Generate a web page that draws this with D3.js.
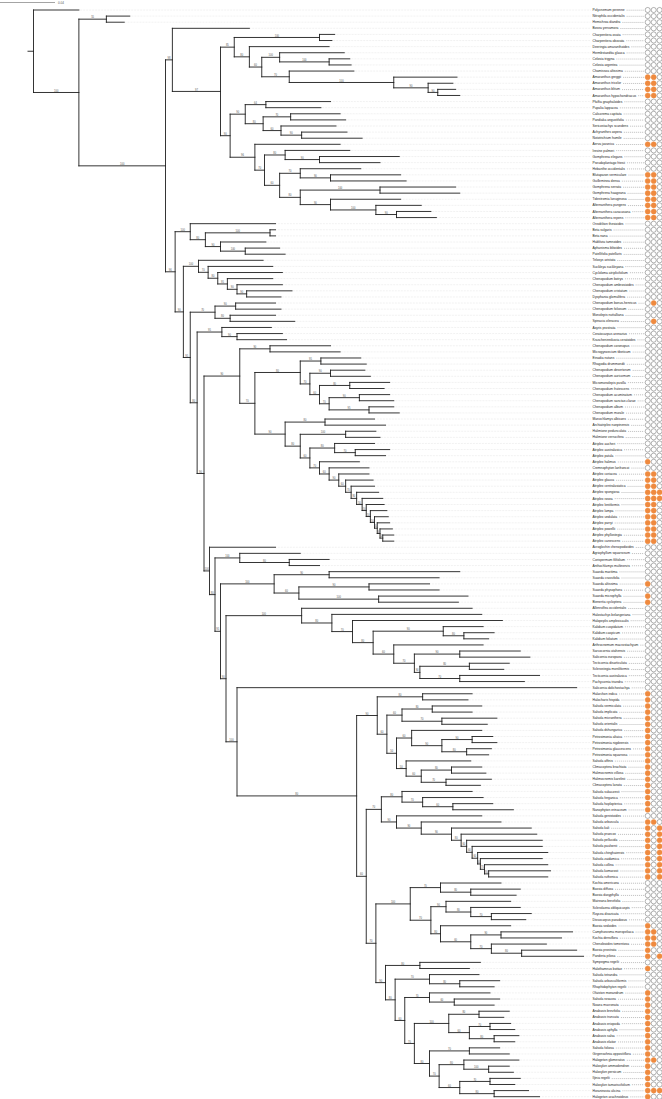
<!DOCTYPE html>
<html><head><meta charset="utf-8">
<script src="https://cdn.jsdelivr.net/npm/d3@7"></script>
<style>body{margin:0;background:#fff}svg{display:block}</style></head>
<body><svg id="c" width="662" height="1099"></svg>
<script>
// ---------------- DATA ----------------
const scaleBarValue = 0.04;          // substitutions / site
const branchUnit = 0.001;            // newick lengths are in units of 0.001 subst./site
const tipNames = [
"Polycnemum perenne","Nitrophila occidentalis","Hemichroa diandra","Bosea yervamora","Charpentiera ovata","Charpentiera obovata","Deeringia amaranthoides","Hermbstaedtia glauca","Celosia trigyna","Celosia argentea",
"Chamissoa altissima","Amaranthus greggii","Amaranthus tricolor","Amaranthus blitum","Amaranthus hypochondriacus","Pfaffia gnaphaloides","Pupalia lappacea","Calicorema capitata","Pandiaka angustifolia","Sericostachys scandens",
"Achyranthes aspera","Nototrichium humile","Aerva javanica","Iresine palmeri","Gomphrena elegans","Pseudoplantago friesii","Hebanthe occidentalis","Blutaparon vermiculare","Guilleminea densa","Gomphrena serrata",
"Gomphrena haageana","Tidestromia lanuginosa","Alternanthera pungens","Alternanthera caracasana","Alternanthera repens","Oreobliton thesioides","Beta vulgaris","Beta nana","Hablitzia tamnoides","Aphanisma blitoides",
"Patellifolia patellaris","Teloxys aristata","Suckleya suckleyana","Cycloloma atriplicifolium","Chenopodium botrys","Chenopodium ambrosioides","Chenopodium cristatum","Dysphania glomulifera","Chenopodium bonus-henricus","Chenopodium foliosum",
"Monolepis nuttalliana","Spinacia oleracea","Axyris prostrata","Ceratocarpus arenarius","Krascheninnikovia ceratoides","Chenopodium coronopus","Microgynoecium tibeticum","Einadia nutans","Rhagodia drummondii","Chenopodium desertorum",
"Chenopodium auricomum","Micromonolepis pusilla","Chenopodium frutescens","Chenopodium acuminatum","Chenopodium sanctae-clarae","Chenopodium album","Chenopodium murale","Manochlamys albicans","Archiatriplex nanpinensis","Halimione pedunculata",
"Halimione verrucifera","Atriplex aucheri","Atriplex australasica","Atriplex patula","Atriplex halimus","Cremnophyton lanfrancoi","Atriplex coriacea","Atriplex glauca","Atriplex centralasiatica","Atriplex spongiosa",
"Atriplex rosea","Atriplex lentiformis","Atriplex lampa","Atriplex undulata","Atriplex parryi","Atriplex powellii","Atriplex phyllostegia","Atriplex canescens","Acroglochin chenopodioides","Agriophyllum squarrosum",
"Corispermum filifolium","Anthochlamys multinervis","Suaeda maritima","Suaeda crassifolia","Suaeda altissima","Suaeda physophora","Suaeda microphylla","Bienertia cycloptera","Allenrolfea occidentalis","Halostachys belangeriana",
"Halopeplis amplexicaulis","Kalidium cuspidatum","Kalidium caspicum","Kalidium foliatum","Arthrocnemum macrostachyum","Sarcocornia utahensis","Salicornia europaea","Tecticornia disarticulata","Sclerostegia moniliformis","Tecticornia australasica",
"Pachycornia triandra","Salicornia dolichostachya","Halarchon indica","Halocharis hispida","Salsola vermiculata","Salsola implicata","Salsola micranthera","Salsola orientalis","Salsola dshungarica","Petrosimonia altaica",
"Petrosimonia nigdeensis","Petrosimonia glaucescens","Petrosimonia squarrosa","Salsola affinis","Climacoptera brachiata","Halimocnemis villosa","Halimocnemis karelinii","Climacoptera lanata","Salsola sukaczevii","Salsola ferganica",
"Salsola hoplopterica","Nanophyton erinaceum","Salsola genistoides","Salsola arbuscula","Salsola kali","Salsola praecox","Salsola pellucida","Salsola paulsenii","Salsola chinghaiensis","Salsola zaidamica",
"Salsola collina","Salsola komarovii","Salsola ruthenica","Kochia americana","Bassia diffusa","Bassia dasyphylla","Maireana brevifolia","Sclerolaena obliquicuspis","Roycea divaricata","Dissocarpus paradoxus",
"Bassia sedoides","Camphorosma monspeliaca","Kochia densiflora","Chenoleoides tomentosa","Bassia prostrata","Panderia pilosa","Sympegma regelii","Halothamnus bottae","Salsola tetrandra","Salsola arbusculiformis",
"Rhaphidophyton regelii","Ofaiston monandrum","Salsola rosacea","Noaea mucronata","Anabasis brevifolia","Anabasis truncata","Anabasis eriopoda","Anabasis aphylla","Anabasis salsa","Anabasis elatior",
"Salsola foliosa","Girgensohnia oppositiflora","Halogeton glomeratus","Haloxylon ammodendron","Haloxylon persicum","Iljinia regelii","Haloxylon tamariscifolium","Horaninovia ulicina","Halogeton arachnoideus"
];
// three binary traits per tip (1 = present / orange)
const trait1 = [
0,0,0,0,0,0,0,0,0,0, 0,1,1,1,1,0,0,0,0,0, 0,0,1,0,0,0,0,1,1,1, 1,1,1,1,1,0,0,0,0,0,
0,0,0,0,0,0,0,0,0,0, 0,0,0,0,0,0,0,0,0,0, 0,0,0,0,0,0,0,0,0,0, 0,0,0,0,1,0,1,1,1,1,
1,1,1,1,1,1,1,1,0,0, 0,0,0,0,1,0,1,1,0,0, 0,0,0,0,0,0,0,0,0,0, 0,0,1,1,1,1,1,1,1,1,
1,1,1,1,1,1,1,1,1,1, 1,1,0,1,1,1,1,1,1,1, 1,1,1,0,0,0,0,0,0,0, 1,1,1,1,1,1,0,1,0,0,
0,1,1,1,1,1,1,1,1,1, 1,1,1,1,1,1,1,1,1];
const trait2 = [
0,0,0,0,0,0,0,0,0,0, 0,1,1,1,1,0,0,0,0,0, 0,0,1,0,0,0,0,1,1,1, 1,1,1,1,1,0,0,0,0,0,
0,0,0,0,0,0,0,0,1,0, 0,1,0,0,0,0,0,0,0,0, 0,0,0,0,0,0,0,0,0,0, 0,0,0,0,0,0,1,1,1,1,
1,1,1,1,1,1,1,1,0,0, 0,0,0,0,0,0,0,0,0,0, 0,0,0,0,0,0,0,0,0,0, 0,0,0,0,0,0,0,0,0,0,
0,0,0,0,0,0,0,0,0,0, 0,0,0,1,0,0,0,0,0,0, 0,0,0,0,0,0,0,0,0,0, 0,1,1,1,0,0,0,0,0,0,
0,0,0,0,0,0,0,0,0,0, 0,0,1,0,0,0,0,1,0];
const trait3 = [
0,0,0,0,0,0,0,0,0,0, 0,0,0,0,0,0,0,0,0,0, 0,0,0,0,0,0,0,0,0,0, 0,0,0,0,0,0,0,0,0,0,
0,0,0,0,0,0,0,0,0,0, 0,0,0,0,0,0,0,0,0,0, 0,0,0,0,0,0,0,0,0,0, 0,0,0,0,0,0,0,0,0,1,
1,0,0,0,0,0,0,0,0,0, 0,0,0,0,0,0,0,0,0,0, 0,0,0,0,0,0,0,0,0,0, 0,0,0,0,0,0,0,0,0,0,
0,0,0,0,0,0,0,0,0,0, 0,0,0,0,1,1,1,1,1,1, 1,1,1,0,0,0,0,0,0,0, 0,0,0,0,0,1,0,0,0,0,
0,0,0,0,0,0,0,0,0,0, 0,0,0,0,0,0,0,1,0];

// tree pieces (tips are 1-based indices into tipNames; internal labels = bootstrap support)
const cladeA5 = "((5:11,6:9)100:62,(7:58,((8:47,(9:15,10:16)100:36)100:13,(11:47,(12:46,(13:18,(14:13,15:16)90:7)90:25)100:76)70:20)60:9)80:11)85";
const cladeA16 = "((16:47,17:40)64:15,((18:36,19:40)70:20,(20:40,(21:33,22:44)90:15)60:13)80:13)90";
const cladeG23 = "(23:62,((24:47,(25:58,26:44)90:25)80:15,((27:44,(28:51,29:55)90:22)70:15,((30:55,31:58)100:58,(32:51,(33:33,(34:25,35:29)90:15)100:33)90:22)80:15)60:11)70:7)96";
const cladeAma = "(4:56,("+cladeA5+":10,("+cladeA16+":11,"+cladeG23+":18)90:7)97:35)98";
const cladeBeta = "(36:62,((37:4,38:4)100:47,(39:33,(40:25,41:29)100:18)90:11)80:11)100";
const cladeDysph = "(42:47,(43:47,(44:47,(45:33,(46:33,(47:33,48:25)90:7)90:7)95:7)80:7)70:7)100";
const cladeC1 = "((49:29,50:33)90:15,(51:33,52:47)80:11)70";
const cladeC2 = "(53:36,(54:33,55:36)90:11)95";
const cladeC3b = "((58:29,59:33)95:15,((60:25,61:29)90:15,((62:29,63:25)80:22,((64:22,65:25)90:22,(66:18,67:22)95:29)70:7)60:7)70:7)80";
const cladeAtr = "(77:22,(78:20,(79:17,(80:16,(81:15,(82:13,(83:12,(84:10,(85:9,(86:9,(87:8,88:8)50:2)50:2)50:2)50:3)50:3)50:3)50:4)80:4)70:4)60:5)90";
const cladeAgrp = "((68:36,69:44)80:29,((70:22,71:25)100:33,((72:29,(73:25,74:22)70:15)80:18,(75:29,(76:29,"+cladeAtr+":7)60:7)70:7)60:7)80:11)90";
const cladeC34 = "((56:44,57:51)90:22,("+cladeC3b+":33,"+cladeAgrp+":22)70:11)90";
const cladeCoris = "(90:44,(91:29,92:22)80:36)100";
const cladeSuaed = "((93:95,94:80)90:40,((95:44,96:51)90:51,(97:65,98:58)100:58)60:18)100";
const cladeSalic = "(99:124,(100:109,(101:109,((102:29,(103:22,104:18)80:15)90:51,(105:65,((106:44,107:51)90:33,((108:29,109:25)80:36,(110:58,111:47)70:29)90:4)70:15)60:15)80:15)70:15)80:22)100";
const cladeS1 = "((113:36,114:33)80:33,(((115:36,116:29)80:22,(117:40,118:33)70:29)60:11,((119:51,((120:15,121:18)90:22,(122:18,123:16)80:18)90:22)60:11,(124:47,((125:22,126:25)80:22,(127:33,128:25)70:18)60:11)50:7)50:7)60:7)90";
const cladeS2 = "((129:51,(130:44,(131:29,132:44)60:22)70:15)80:15,(133:62,(134:58,(135:58,(136:55,(137:55,(138:51,(139:51,(140:45,(141:46,(142:45,143:43)80:3)70:3)60:2)60:4)60:4)60:4)80:7)90:22)90:18)90:11)70";
const cladeCamph = "((144:44,(145:36,146:33)80:22)70:22,((147:47,(148:36,(149:29,150:25)70:15)80:18)90:11,(151:51,((152:52,153:44)90:22,(154:40,(155:40,156:45)80:22)70:15)60:22)80:7)70:15)100";
const cladeS3 = "((157:44,158:36)80:25,((159:36,(160:29,161:25)80:22)70:25,((162:44,(163:33,164:29)60:18)70:18,(((165:22,166:18)80:22,((167:15,168:18)70:15,(169:18,170:15)80:18)60:15)100:25,((171:22,172:29)70:29,((173:40,(174:15,175:18)100:18)80:18,((176:22,177:18)70:22,(178:25,179:33)80:25)60:15)70:7)80:11)70:7)60:7)80:7)90";
const cladeSalsoloid = "(112:247,("+cladeS1+":15,("+cladeS2+":11,("+cladeCamph+":25,"+cladeS3+":7)70:7)60:7)80:87)100";
const cladeOthers = "(89:48,("+cladeCoris+":18,("+cladeSuaed+":39,("+cladeSalic+":55,"+cladeSalsoloid+":8)90:4)95:4)80:4)100";
const cladeCheno = "("+cladeBeta+":11,("+cladeDysph+":11,("+cladeC1+":18,("+cladeC2+":18,("+cladeC34+":26,"+cladeOthers+":4)90:5)80:5)95:5)90:6)96";
const rootEdge = 4;
const newick = "(1:33,((2:17,3:13)55:20,("+cladeAma+":5,"+cladeCheno+":7)100:63)100:33):"+rootEdge+";";

// ---------------- PARSE ----------------
function parseNewick(s){
  let i=0;
  function node(){
    const n={children:[]};
    if(s[i]==='('){
      i++; n.children.push(node());
      while(s[i]===','){i++; n.children.push(node());}
      i++;
    }
    let lab=''; while(i<s.length && !',():;'.includes(s[i])) lab+=s[i++];
    n.label=lab;
    n.length=0;
    if(s[i]===':'){i++; let l=''; while(i<s.length && !',();'.includes(s[i])) l+=s[i++]; n.length=+l;}
    return n;
  }
  return node();
}
const root = d3.hierarchy(parseNewick(newick), d=>d.children.length?d.children:null);
root.eachBefore(d=>{ d.len = (d.parent? d.parent.len : 0) + d.data.length; });
const leaves = root.leaves();

// ---------------- SCALES ----------------
const svg = d3.select("#c");
const x = d3.scaleLinear().domain([0, scaleBarValue/branchUnit]).range([28, 83]);
const y = d3.scaleLinear().domain([0, tipNames.length-1]).range([10, 1096.7]);
leaves.forEach((d,i)=>{ d.idx = +d.data.label - 1; d.y = y(i); });
root.eachAfter(d=>{ if(d.children){ const ys=d.children.map(c=>c.y); d.y=(d3.min(ys)+d3.max(ys))/2; } d.x = x(d.len); });

// ---------------- DRAW ----------------
const labelX = 592.5, circX = [647.7,653.7,659.6], orange="#ef8a3f";
// scale bar
const barLen = x(scaleBarValue/branchUnit) - x(0);
svg.append("line").attr("x1",0).attr("x2",barLen).attr("y1",2.5).attr("y2",2.5).attr("stroke","#666").attr("stroke-width",0.6);
svg.append("text").attr("x",barLen+3).attr("y",3.8).attr("font-size",3).attr("fill","#555").attr("font-family","Liberation Sans, Arial, sans-serif").text(scaleBarValue.toFixed(2));

// leader lines
svg.append("g").selectAll("line").data(leaves).join("line")
  .attr("x1",d=>d.x+1).attr("x2",labelX-2).attr("y1",d=>d.y).attr("y2",d=>d.y)
  .attr("stroke","#c8c8c8").attr("stroke-width",0.4).attr("stroke-dasharray","0.6,0.9");

// branches
const g = svg.append("g").attr("stroke","#1e1e1e").attr("stroke-width",0.9).attr("fill","none").attr("stroke-linecap","square");
g.append("line").attr("x1",x(0)).attr("x2",root.x).attr("y1",root.y).attr("y2",root.y);
root.descendants().forEach(d=>{
  if(d.parent) g.append("line").attr("x1",d.parent.x).attr("x2",d.x).attr("y1",d.y).attr("y2",d.y);
  if(d.children){ const ys=d.children.map(c=>c.y); g.append("line").attr("x1",d.x).attr("x2",d.x).attr("y1",d3.min(ys)).attr("y2",d3.max(ys)); }
});
// support labels
svg.append("g").attr("font-family","Liberation Sans, Arial, sans-serif").attr("font-size",2.6).attr("fill","#555").attr("text-anchor","middle")
  .selectAll("text").data(root.descendants().filter(d=>d.children && d.parent && d.data.label)).join("text")
  .attr("x",d=>(d.parent.x+d.x)/2).attr("y",d=>d.y-0.9).text(d=>d.data.label);

// tip labels
const tl = svg.append("g").attr("font-family","Liberation Sans, Arial, sans-serif").attr("font-size",3.3).attr("fill","#222");
leaves.forEach(d=>{
  const t = tl.append("text").attr("x",labelX).attr("y",d.y+1.1).text(tipNames[d.idx]);
  const w = t.node().getComputedTextLength();
  svg.append("line").attr("x1",labelX+w+2).attr("x2",circX[0]-3.6).attr("y1",d.y+0.2).attr("y2",d.y+0.2)
    .attr("stroke","#777").attr("stroke-width",0.45).attr("stroke-dasharray","1.1,0.9");
});
// trait circles
[trait1,trait2,trait3].forEach((tr,k)=>{
  svg.append("g").selectAll("circle").data(leaves).join("circle")
    .attr("cx",circX[k]).attr("cy",d=>d.y).attr("r",2.55)
    .attr("fill",d=>tr[d.idx]?orange:"#fff").attr("stroke",d=>tr[d.idx]?orange:"#555").attr("stroke-width",0.45);
});
</script></body></html>
